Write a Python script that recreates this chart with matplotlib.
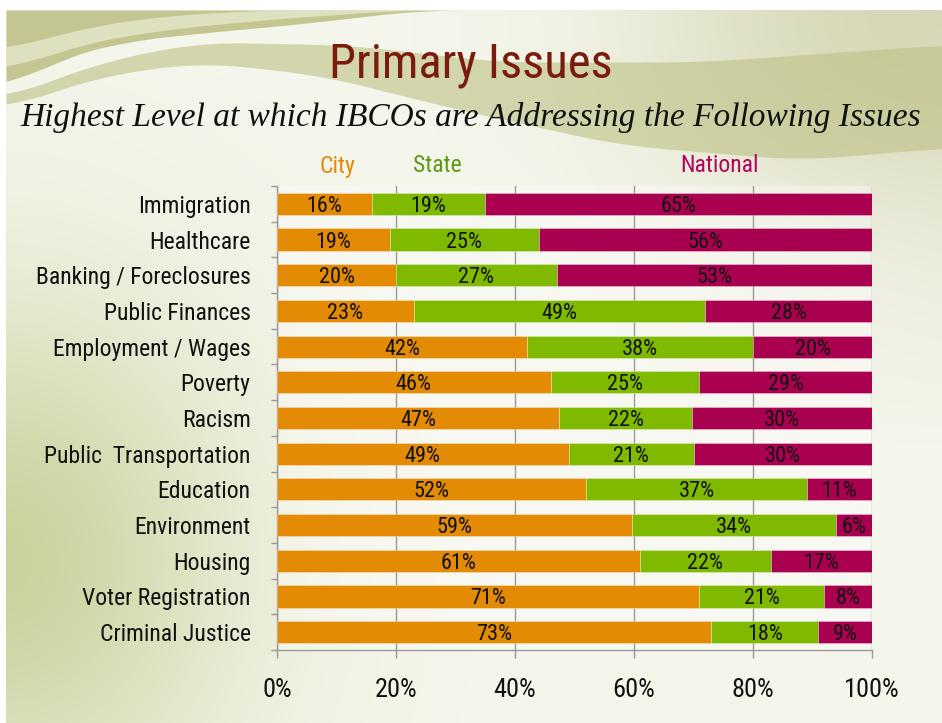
import numpy as np
import matplotlib
matplotlib.use("Agg")
import matplotlib.pyplot as plt
from matplotlib import font_manager as fm

# Data
issues = ['Immigration', 'Healthcare', 'Banking / Foreclosures', 'Public Finances',
          'Employment / Wages', 'Poverty', 'Racism', 'Public  Transportation',
          'Education', 'Environment', 'Housing', 'Voter Registration', 'Criminal Justice']
city = [16, 19, 20, 23, 42, 46, 47, 49, 52, 59, 61, 71, 73]
state = [19, 25, 27, 49, 38, 25, 22, 21, 37, 34, 22, 21, 18]
national = [65, 56, 53, 28, 20, 29, 30, 30, 11, 6, 17, 8, 9]
series_names = ['City', 'State', 'National']
xticks = [0, 20, 40, 60, 80, 100]

colors = ['#E38B04', '#7FBA00', '#AA0050']
label_colors = ['#E38A0B', '#5E9A10', '#B0055A']

# pick a condensed sans face if one is installed
names = sorted({f.name for f in fm.fontManager.ttflist})
narrow_face = None
for want in ['Liberation Sans Narrow', 'Roboto Condensed', 'Open Sans Condensed',
             'DejaVu Sans Condensed', 'Noto Sans Condensed']:
    if want in names:
        narrow_face = want
        break
stretch = 'normal'
if narrow_face is None:
    narrow_face = 'DejaVu Sans'
    stretch = 'condensed'
narrow = dict(family=narrow_face, stretch=stretch)
serif = ['Liberation Serif', 'DejaVu Serif']

W, H = 942, 723
fig = plt.figure(figsize=(W / 100, H / 100), dpi=100)
fig.patch.set_facecolor('white')

# Background (slide gradient + wave)
bg = fig.add_axes([0, 0, 1, 1], zorder=-5)
bg.set_xlim(0, W)
bg.set_ylim(H, 0)
bg.axis('off')
yy, xx = np.mgrid[0:H, 0:W]
base = np.array([245, 246, 236]) / 255.0
green = np.array([196, 204, 144]) / 255.0
olive = np.array([190, 192, 132]) / 255.0
g1 = np.exp(-((xx / 230.0) ** 2 + ((yy - 560) / 260.0) ** 2))
g2 = np.exp(-(((xx - W) / 260.0) ** 2 + ((yy - 20) / 160.0) ** 2))
g3 = np.clip((xx - 550) / 400.0, 0, 1) * np.clip((460 - yy) / 400.0, 0, 1) * 0.55
img = base[None, None, :].repeat(H, 0).repeat(W, 1)
img = img * (1 - g1[..., None] * 0.85) + green * g1[..., None] * 0.85
img = img * (1 - g2[..., None] * 0.6) + olive * g2[..., None] * 0.6
img = img * (1 - g3[..., None]) + np.array([216, 218, 192]) / 255.0 * g3[..., None]
img[:10, :, :] = 1.0
img[:, :6, :] = 1.0
bg.imshow(img, extent=(0, W, H, 0), aspect='auto', zorder=0)


def smooth_curve(px, py, xs, k=61):
    y = np.interp(xs, px, py)
    pad = k // 2
    yp = np.concatenate([np.full(pad, y[0]), y, np.full(pad, y[-1])])
    return np.convolve(yp, np.ones(k) / k, mode='valid')


xs = np.linspace(6, W, 600)
# olive corner top-left
c_top = smooth_curve([6, 60, 120, 200, 300, 420, 942], [88, 58, 42, 33, 24, 10, 10], xs)
bg.fill_between(xs, 10, np.maximum(c_top, 10), color='#B7BB7A', alpha=0.8, lw=0, zorder=1)
# light stripe inside the corner
s_up = smooth_curve([6, 80, 160, 260, 400], [50, 28, 16, 10, 10], xs)
s_lo = smooth_curve([6, 80, 160, 260, 400], [70, 44, 30, 20, 10], xs)
bg.fill_between(xs, s_up, np.maximum(s_lo, s_up), color='#E6E8CC', alpha=0.8, lw=0, zorder=2)
# main band sweeping right
b_up = smooth_curve([6, 100, 200, 350, 500, 700, 942], [98, 62, 42, 45, 62, 62, 45], xs)
b_lo = smooth_curve([6, 100, 200, 320, 460, 620, 800, 942], [108, 76, 62, 75, 110, 145, 160, 148], xs)
bg.fill_between(xs, b_up, b_lo, color='#BDC083', alpha=0.6, lw=0, zorder=1)

# Titles
fig.text(0.5, 0.91, 'Primary Issues', ha='center', va='center', fontsize=35,
         color='#7A1C0C', **narrow)
fig.text(0.5, 0.837, 'Highest Level at which IBCOs are Addressing the Following Issues',
         ha='center', va='center', fontsize=24, style='italic', color='#111111', family=serif)

# Chart
ax = fig.add_axes([277 / W, 1 - 650 / H, (872 - 277) / W, (650 - 186) / H])
ax.set_facecolor((1, 1, 1, 0.35))

vals = np.array([city, state, national], dtype=float)
totals = vals.sum(axis=0)
pct = vals / totals * 100
ypos = np.arange(len(issues))
left = np.zeros(len(issues))
for i in range(3):
    bars = ax.barh(ypos, pct[i], left=left, height=0.62, color=colors[i],
                   edgecolor=(1, 1, 1, 0.35), linewidth=0.6, zorder=3)
    for j, b in enumerate(bars):
        ax.text(left[j] + pct[i][j] / 2, ypos[j], f'{int(vals[i][j])}%', ha='center',
                va='center_baseline', fontsize=16, color='#111111', zorder=4, **narrow)
    left += pct[i]

ax.set_xlim(0, 100)
ax.set_ylim(len(issues) - 0.5, -0.5)
ax.set_xticks(xticks)
ax.set_xticklabels([f'{v}%' for v in xticks], fontsize=19, color='#111111', **narrow)
ax.set_yticks(ypos)
ax.set_yticklabels(issues, fontsize=17, color='#111111', **narrow)
ax.set_yticks(np.arange(len(issues) + 1) - 0.5, minor=True)
ax.tick_params(axis='y', which='major', length=0, pad=19)
ax.tick_params(axis='y', which='minor', length=4.5, color='#999999', width=1)
ax.tick_params(axis='x', length=6, color='#999999', width=1, pad=14)
ax.grid(axis='x', color='#9A9A9A', linewidth=1, zorder=0)
ax.set_axisbelow(True)
for s in ['top', 'right']:
    ax.spines[s].set_visible(False)
for s in ['left', 'bottom']:
    ax.spines[s].set_color('#999999')
    ax.spines[s].set_linewidth(1)

# Legend labels
for name, xpos, c in zip(series_names, [337, 437, 720], label_colors):
    fig.text(xpos / W, 1 - 166 / H, name, ha='center', va='center', fontsize=17,
             color=c, **narrow)

fig.savefig('out.png', dpi=100)
